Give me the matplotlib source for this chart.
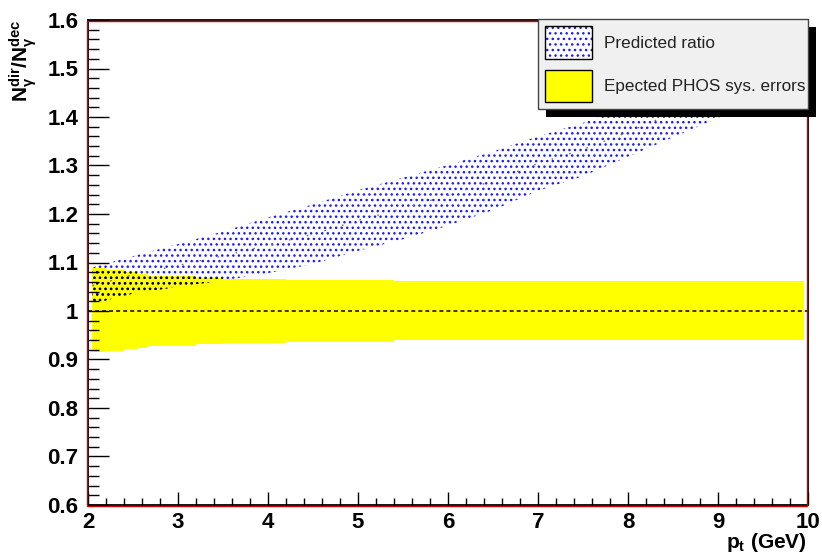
"""Direct-to-decay photon ratio prediction against expected PHOS systematic errors."""

import matplotlib
matplotlib.use("Agg")
import matplotlib.pyplot as plt
import numpy as np
from matplotlib.legend_handler import HandlerTuple
from matplotlib.patches import Patch, Rectangle
from matplotlib.ticker import FuncFormatter, MultipleLocator
from matplotlib.transforms import IdentityTransform, ScaledTranslation

plt.rcParams["font.family"] = ["Liberation Sans", "DejaVu Sans"]
plt.rcParams["mathtext.fontset"] = "custom"
plt.rcParams["mathtext.rm"] = "Liberation Sans"
plt.rcParams["mathtext.it"] = "Liberation Sans:italic"
plt.rcParams["mathtext.bf"] = "Liberation Sans:bold"
plt.rcParams["hatch.linewidth"] = 1.0

# predicted N_dir / N_dec band
pt_pred = np.array([2.05, 2.5, 3.0, 3.5, 4.0, 4.5, 5.0, 5.5, 6.0, 6.5,
                    7.0, 7.5, 8.0, 8.5, 9.0, 9.5, 9.95])
ratio_lo = np.array([1.015, 1.036, 1.050, 1.063, 1.078, 1.097, 1.124, 1.148,
                     1.176, 1.208, 1.248, 1.278, 1.318, 1.358, 1.398, 1.44, 1.48])
ratio_hi = np.array([1.090, 1.113, 1.138, 1.164, 1.193, 1.220, 1.249, 1.275,
                     1.301, 1.329, 1.360, 1.388, 1.420, 1.458, 1.500, 1.55, 1.60])

# expected PHOS systematic errors, per pt bin
pt_edges = np.array([2.05, 2.2, 2.4, 2.55, 2.65, 3.2, 3.5, 4.2, 5.4, 9.95])
sys_hi = np.array([1.089, 1.084, 1.080, 1.077, 1.073, 1.069, 1.066, 1.064, 1.061])
sys_lo = np.array([0.915, 0.918, 0.921, 0.924, 0.928, 0.931, 0.935, 0.937, 0.940])

unity = 1.0
labels = ["Predicted ratio", "Epected PHOS sys. errors"]

HATCH = "..."
YELLOW = "#ffff00"
DOT_BLUE = "#1a1aff"

fig = plt.figure(figsize=(8.22, 5.54), dpi=100)
ax = fig.add_axes([88 / 822, 49 / 554, 720 / 822, 485 / 554])

# systematic band as histogram steps
ax.fill_between(pt_edges, np.append(sys_lo, sys_lo[-1]), np.append(sys_hi, sys_hi[-1]),
                step="post", facecolor=YELLOW, edgecolor="none", lw=0, zorder=1)

# prediction band, dotted fill
ax.fill_between(pt_pred, ratio_lo, ratio_hi, facecolor="none", edgecolor=DOT_BLUE,
                lw=0, hatch=HATCH, zorder=2)

# where the prediction sits on top of the yellow band the dots show up dark
x_fine = np.linspace(pt_edges[0], pt_edges[-1], 2000)
idx = np.clip(np.searchsorted(pt_edges, x_fine, side="right") - 1, 0, len(sys_hi) - 1)
yel_top = sys_hi[idx]
blu_lo = np.interp(x_fine, pt_pred, ratio_lo)
blu_hi = np.interp(x_fine, pt_pred, ratio_hi)
ovl_top = np.minimum(yel_top, blu_hi)
ax.fill_between(x_fine, blu_lo, ovl_top, where=blu_lo < ovl_top, facecolor="none",
                edgecolor="black", lw=0, hatch=HATCH, zorder=3)

# central value of the prediction
ax.plot(pt_pred, (ratio_lo + ratio_hi) / 2, color="#777777", lw=1.0,
        ls=(0, (1.2, 12)), zorder=3)

ax.axhline(unity, color="black", lw=1.1, ls=(0, (2.6, 2.0)), zorder=4)

ax.set_xlim(2, 10)
ax.set_ylim(0.6, 1.6)

ax.xaxis.set_major_locator(MultipleLocator(1))
ax.xaxis.set_minor_locator(MultipleLocator(0.2))
ax.yaxis.set_major_locator(MultipleLocator(0.1))
ax.yaxis.set_minor_locator(MultipleLocator(0.02))
ax.yaxis.set_major_formatter(FuncFormatter(lambda v, _: f"{round(v, 2):g}"))
ax.xaxis.set_major_formatter(FuncFormatter(lambda v, _: f"{round(v, 2):g}"))

ax.tick_params(axis="both", which="both", direction="in", top=False, right=False,
               width=1.0, color="black")
ax.tick_params(axis="y", which="major", length=15, pad=7)
ax.tick_params(axis="y", which="minor", length=8)
ax.tick_params(axis="x", which="major", length=9.5, pad=5)
ax.tick_params(axis="x", which="minor", length=5)
for lab in ax.get_xticklabels() + ax.get_yticklabels():
    lab.set_fontsize(16)
    lab.set_fontweight("bold")

for sp in ax.spines.values():
    sp.set_color("black")
    sp.set_linewidth(1.3)
    sp.set_zorder(6)
red_frame = Rectangle((0, 0), 1, 1, fill=False, edgecolor="#cc0000", lw=1.0,
                      transform=ax.transAxes + ScaledTranslation(-0.012, -0.012, fig.dpi_scale_trans),
                      clip_on=False, zorder=6.1)
ax.add_patch(red_frame)

ax.set_ylabel(r"$\mathbf{N_{\gamma}^{dir}/N_{\gamma}^{dec}}$", loc="top", fontsize=15)
ax.yaxis.set_label_coords(-0.068, 1.0)
ax.set_xlabel(r"$\mathbf{p_{t}}$ (GeV)", loc="right", fontsize=15, fontweight="bold")
ax.xaxis.set_label_coords(0.998, -0.054)

handles = [
    (Patch(facecolor="white", edgecolor=DOT_BLUE, lw=0, hatch=HATCH),
     Patch(facecolor="none", edgecolor="black", lw=1.0)),
    Patch(facecolor=YELLOW, edgecolor="black", lw=1.0),
]
leg = ax.legend(handles, labels, handler_map={tuple: HandlerTuple(ndivide=1, pad=0)},
                loc="upper left", bbox_to_anchor=(538 / 822, 1 - 110 / 554, 270 / 822, 91 / 554),
                bbox_transform=fig.transFigure, mode="expand", borderaxespad=0,
                fontsize=12.3, handlelength=2.75, handleheight=2.55, labelspacing=0.64,
                borderpad=0.42, handletextpad=0.7, frameon=True, fancybox=False,
                framealpha=1, facecolor="#f0f0f0", edgecolor="#444444")
leg.get_frame().set_linewidth(1.0)
leg.set_zorder(7)
for t in leg.get_texts():
    t.set_color("#222222")

# solid drop shadow behind the legend box
fig.canvas.draw()
bb = leg.get_window_extent()
ax.add_patch(Rectangle((bb.x0 + 8, bb.y0 - 8), bb.width, bb.height, transform=IdentityTransform(),
                       facecolor="black", edgecolor="none", clip_on=False, zorder=6.9))

fig.savefig("out.png", dpi=100)
